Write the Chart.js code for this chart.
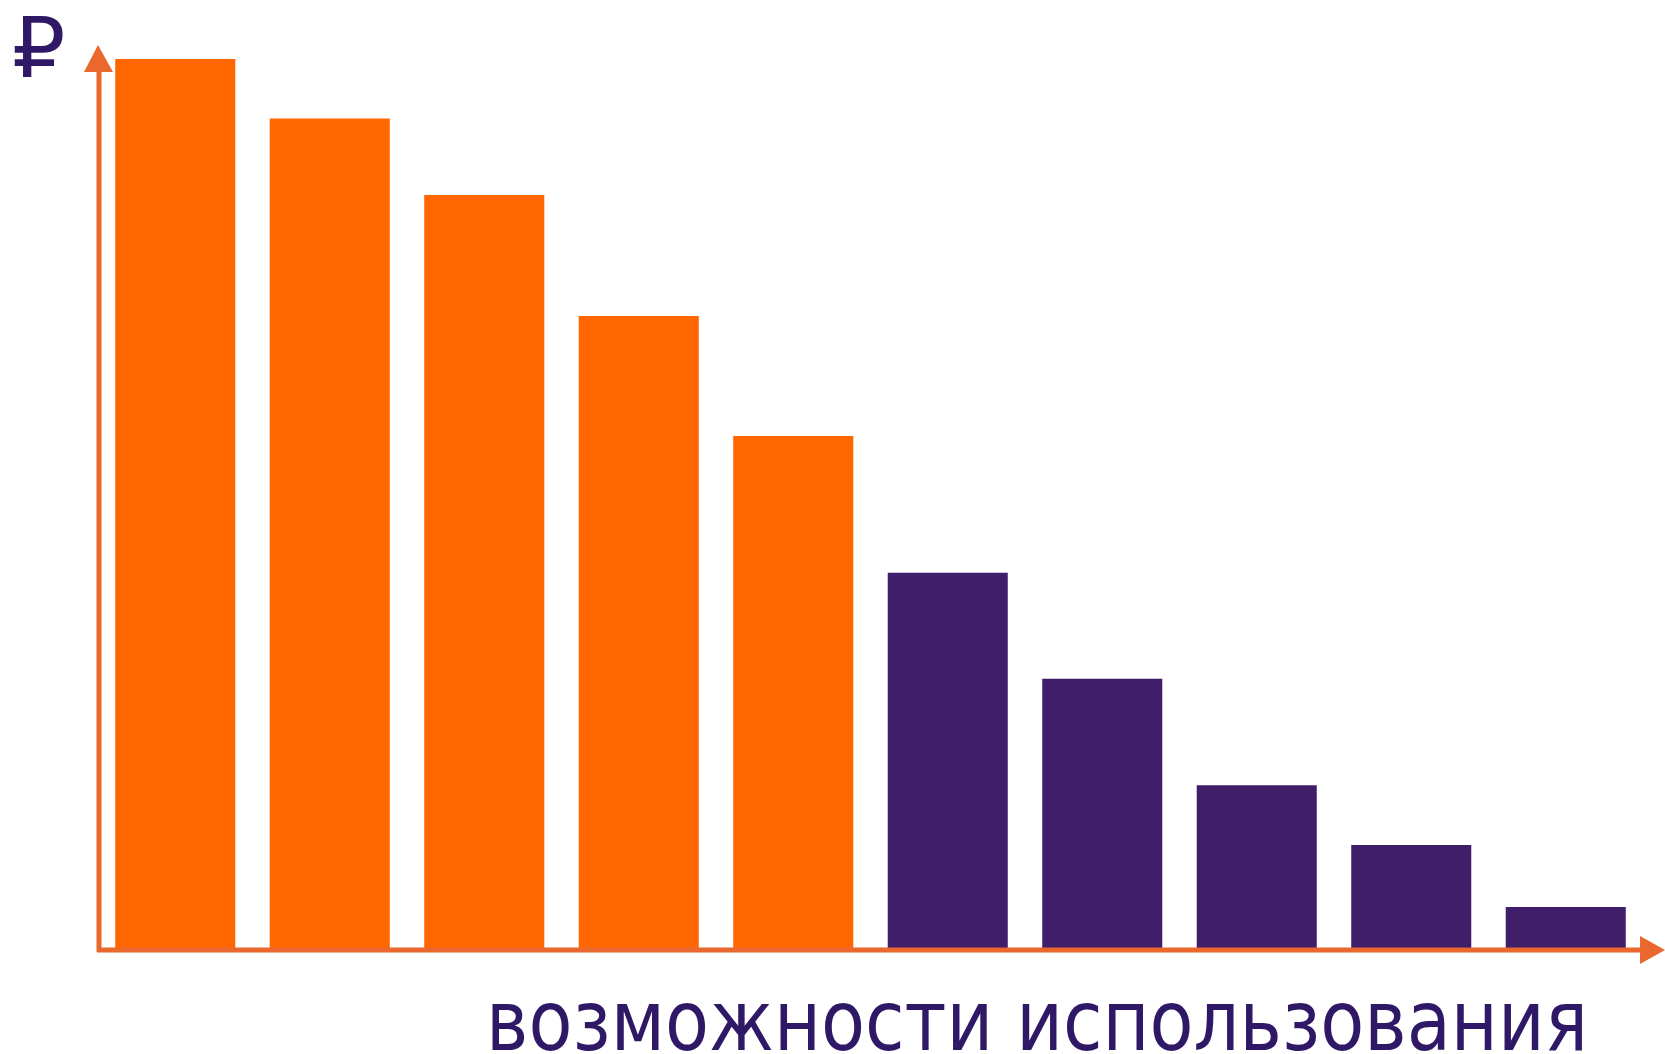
<!DOCTYPE html>
<html>
<head>
<meta charset="utf-8">
<script src="https://cdn.jsdelivr.net/npm/chart.js@4"></script>
<style>
  html, body { margin: 0; padding: 0; background: #ffffff; }
  canvas { display: block; }
</style>
</head>
<body>
<canvas id="myChart" width="1665" height="1054"></canvas>
<script>
// data (bar heights, max = 100)
const labels = ["1", "2", "3", "4", "5", "6", "7", "8", "9", "10"];
const values = [100, 93.3, 84.7, 71.1, 57.6, 42.2, 30.3, 18.3, 11.6, 4.6];
const groups = ["a", "a", "a", "a", "a", "b", "b", "b", "b", "b"];
const axisTitle = "возможности использования";
const currency = "₽";

const ORANGE = "#ff6600";
const PURPLE = "#411e6a";
const AXIS = "#ea672d";
const TEXT = "#2f1866";

// arrows + labels, drawn on top of the bars
const axesPlugin = {
  id: "arrowAxes",
  afterDatasetsDraw(chart) {
    const ctx = chart.ctx;
    const a = chart.chartArea;
    const x0 = a.left + 1;
    const y0 = a.bottom + 2;
    ctx.save();
    ctx.strokeStyle = AXIS;
    ctx.fillStyle = AXIS;
    ctx.lineWidth = 5;

    // y axis
    ctx.beginPath();
    ctx.moveTo(x0, y0 + 2);
    ctx.lineTo(x0, 70);
    ctx.stroke();
    ctx.beginPath();
    ctx.moveTo(x0 - 1, 45);
    ctx.lineTo(x0 - 15, 72);
    ctx.lineTo(x0 + 14, 72);
    ctx.closePath();
    ctx.fill();

    // x axis
    ctx.beginPath();
    ctx.moveTo(x0 - 2, y0);
    ctx.lineTo(1642, y0);
    ctx.stroke();
    ctx.beginPath();
    ctx.moveTo(1665, y0);
    ctx.lineTo(1640, y0 - 14);
    ctx.lineTo(1640, y0 + 14);
    ctx.closePath();
    ctx.fill();

    // ruble sign
    ctx.fillStyle = TEXT;
    ctx.font = "84px 'DejaVu Sans', 'Noto Sans', sans-serif";
    ctx.textAlign = "left";
    ctx.textBaseline = "alphabetic";
    ctx.fillText(currency, 12, 77);

    // axis title, squeezed to the reference width
    ctx.font = "77px 'DejaVu Sans', sans-serif";
    const w = ctx.measureText(axisTitle).width;
    const targetW = 1102;
    ctx.translate(486, 1050);
    ctx.scale(targetW / w, 1.08);
    ctx.fillText(axisTitle, 0, 0);
    ctx.restore();
  }
};

const ctx = document.getElementById("myChart").getContext("2d");
new Chart(ctx, {
  type: "bar",
  data: {
    labels: labels,
    datasets: [
      {
        data: values,
        backgroundColor: groups.map(g => (g === "a" ? ORANGE : PURPLE)),
        borderWidth: 0,
        barPercentage: 0.777,
        categoryPercentage: 1.0,
      },
    ],
  },
  options: {
    responsive: false,
    animation: false,
    layout: {
      padding: { left: 98, right: 22, top: 59, bottom: 106 },
    },
    scales: {
      x: { display: false, offset: true },
      y: { display: false, min: 0, max: 100 },
    },
    plugins: {
      legend: { display: false },
      tooltip: { enabled: false },
    },
  },
  plugins: [axesPlugin],
});
</script>
</body>
</html>
